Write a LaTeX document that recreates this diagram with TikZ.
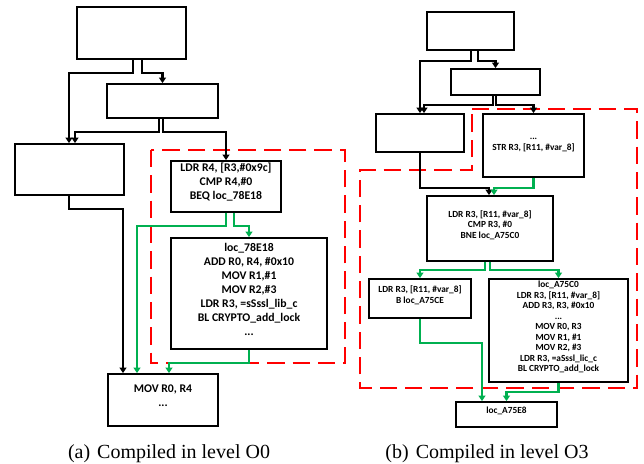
\documentclass[tikz,border=0pt]{standalone}
\usepackage{fontspec}
\usepackage{tikz}
\usetikzlibrary{arrows.meta,calc,fit}
\newfontfamily\boxfont{Carlito}
\newfontfamily\capfont{Liberation Serif}
\definecolor{flowgreen}{RGB}{0,176,80}

\begin{document}
\begin{tikzpicture}[x=0.75pt,y=0.75pt,yscale=-1,xscale=1,
  blk/.style={draw, line width=1.4pt, inner sep=0pt, align=center},
  lcode/.style={font=\boxfont\bfseries\fontsize{8.8}{10.5}\selectfont},
  rcode/.style={font=\boxfont\bfseries\fontsize{7}{7.9}\selectfont},
  flow/.style={line width=1.7pt, -{Triangle[length=4pt,width=5pt]}},
  gflow/.style={flow, color=flowgreen},
  zone/.style={draw=red, line width=1.6pt, dash pattern=on 13pt off 6pt}]
\useasboundingbox (0,0) rectangle (644,464);

%Shape: dashed zones
\draw [zone] (151,150) rectangle (345,363) ;
\draw [zone] (472,109) -- (637,109) -- (637,388) -- (360,388) -- (360,170) -- (472,170) -- cycle ;

%Blocks: level O0
\node [blk, fit={(77,7) (186,59)}] (a1) {};
\node [blk, fit={(107,84) (218,118)}] (b1) {};
\node [blk, fit={(15,144) (124,195)}] (c1) {};
\node [blk, lcode, fit={(171,161) (281,212)}] (d1) {LDR R4, [R3,\#0x9c]\\CMP R4,\#0\\BEQ loc\_78E18};
\node [blk, lcode, fit={(171,238) (327,349)}] (e1) {loc\_78E18\\ADD R0, R4, \#0x10\\MOV R1,\#1\\MOV R2,\#3\\LDR R3, =sSssl\_lib\_c\\BL CRYPTO\_add\_lock\\...};
\node [blk, lcode, fit={(108,374) (218,426)}] (f1) {MOV R0, R4\\...};

%Blocks: level O3
\node [blk, fit={(427,12) (514,50)}] (a3) {};
\node [blk, fit={(451,69) (540,95)}] (b3) {};
\node [blk, fit={(376,114) (464,152)}] (c3) {};
\node [blk, rcode, fit={(483,114) (584,177)}] (d3) {...\\STR R3, [R11, \#var\_8]};
\node [blk, rcode, fit={(427,196) (553,261)}] (e3) {LDR R3, [R11, \#var\_8]\\CMP R3, \#0\\BNE loc\_A75C0};
\node [blk, rcode, fit={(369,279) (471,318)}] (f3) {LDR R3, [R11, \#var\_8]\\B loc\_A75CE};
\node [blk, rcode, fit={(489,279) (628,382)}] (g3) {loc\_A75C0\\LDR R3, [R11, \#var\_8]\\ADD R3, R3, \#0x10\\...\\MOV R0, R3\\MOV R1, \#1\\MOV R2, \#3\\LDR R3, =aSssl\_lic\_c\\BL CRYPTO\_add\_lock};
\node [blk, rcode, fit={(456,402) (557,427)}] (h3) {loc\_A75E8};

%Connectors: level O0
\draw [flow] ($(a1.south)+(1.5,0)$) -- ++(0,13) -| ($(c1.north)+(-0.5,0)$) ;
\draw [flow] ($(a1.south)+(10.5,0)$) -- ++(0,13) -| (b1.north) ;
\draw [flow] ($(b1.south)+(-3.5,0)$) -- ++(0,13) -| ($(c1.north)+(5.5,0)$) ;
\draw [flow] ($(b1.south)+(0.5,0)$) -- ++(0,13) -| (d1.north) ;
\draw [flow] ($(c1.south)+(-0.5,0)$) -- ++(0,13) -| ($(f1.north)+(-40,0)$) ;
\draw [gflow] (d1.south) -- ++(0,13) -| ($(f1.north)+(-26,0)$) ;
\draw [gflow] ($(d1.south)+(8,0)$) -- ++(0,13) -| (e1.north) ;
\draw [gflow] (e1.south) -- ++(0,13) -| ($(f1.north)+(6,0)$) ;

%Connectors: level O3
\draw [flow] ($(a3.south)+(0.5,0)$) -- ++(0,10) -| (c3.north) ;
\draw [flow] ($(a3.south)+(7.5,0)$) -- ++(0,10) -| (b3.north) ;
\draw [flow] ($(b3.south)+(-2.5,0)$) -- ++(0,9) -| ($(c3.north)+(4,0)$) ;
\draw [flow] ($(b3.south)+(0.5,0)$) -- ++(0,9) -| (d3.north) ;
\draw [flow] (c3.south) -- ++(0,35) -| ($(e3.north)+(-1,0)$) ;
\draw [gflow] (d3.south) -- ++(0,10) -| ($(e3.north)+(4,0)$) ;
\draw [gflow] ($(e3.south)+(-5,0)$) -- ++(0,8) -| (f3.north) ;
\draw [gflow] (e3.south) -- ++(0,8) -| (g3.north) ;
\draw [gflow] (f3.south) -- ++(0,24) -| ($(h3.north)+(-24.5,0)$) ;
\draw [gflow] (g3.south) -- ++(0,9) -| (h3.north) ;

% Text Node
\node [anchor=base, font=\capfont\fontsize{15}{18}\selectfont] (capa) at (169,458) {(a)\hspace{0.35em}Compiled in level O0};
% Text Node
\node [anchor=base, font=\capfont\fontsize{15}{18}\selectfont] (capb) at (487,458) {(b)\hspace{0.35em}Compiled in level O3};

\end{tikzpicture}
\end{document}
